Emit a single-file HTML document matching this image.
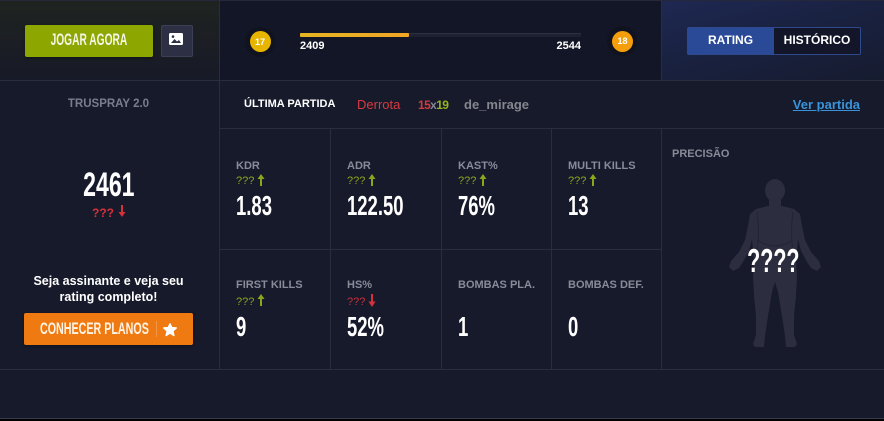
<!DOCTYPE html>
<html><head><meta charset="utf-8">
<style>
*{margin:0;padding:0;box-sizing:border-box}
html,body{width:884px;height:421px;overflow:hidden;background:#000}
body{font-family:"Liberation Sans",sans-serif;position:relative}
.a{position:absolute}
.t{position:absolute;white-space:nowrap}
.ln{position:absolute;background:#2a2d40}
.cc{position:absolute;width:300px;text-align:center;white-space:nowrap}
.cc span,.sx{display:inline-block}
.lab{position:absolute;font-size:11px;line-height:11px;font-weight:bold;color:#888b98;white-space:nowrap}
.q{position:absolute;font-size:11px;line-height:11px;color:#8ba61b;white-space:nowrap}
.qr{color:#c8303a}
.val{position:absolute;font-size:28px;line-height:28px;font-weight:bold;color:#fff;white-space:nowrap;transform:scaleX(.66);transform-origin:left top}
</style></head><body>
<div class="a" style="left:0;top:0;width:884px;height:419px;background:#171a2b"></div>
<!-- top backgrounds -->
<div class="a" style="left:0;top:1px;width:219px;height:79px;background:linear-gradient(180deg,#1f2320 0%,#1b1e24 55%,#171a27 100%)"></div>
<div class="a" style="left:220px;top:1px;width:441px;height:79px;background:#131626"></div>
<div class="a" style="left:662px;top:1px;width:222px;height:79px;background:linear-gradient(165deg,#1e2852 0%,#19213f 50%,#161b2f 100%)"></div>

<!-- lines -->
<div class="ln" style="left:0;top:0;width:884px;height:1px;background:#25283a"></div>
<div class="ln" style="left:0;top:80px;width:884px;height:1px"></div>
<div class="ln" style="left:219px;top:0;width:1px;height:369px"></div>
<div class="ln" style="left:661px;top:0;width:1px;height:80px"></div>
<div class="ln" style="left:661px;top:128px;width:1px;height:241px"></div>
<div class="ln" style="left:219px;top:128px;width:665px;height:1px"></div>
<div class="ln" style="left:330px;top:128px;width:1px;height:241px"></div>
<div class="ln" style="left:441px;top:128px;width:1px;height:241px"></div>
<div class="ln" style="left:551px;top:128px;width:1px;height:241px"></div>
<div class="ln" style="left:219px;top:249px;width:442px;height:1px"></div>
<div class="ln" style="left:0;top:369px;width:884px;height:1px"></div>
<div class="ln" style="left:0;top:418px;width:884px;height:1px;background:#373a4c"></div>

<!-- top left buttons -->
<div class="a" style="left:25px;top:25px;width:128px;height:32px;background:#8ea600;border-radius:2px;box-shadow:0 1px 3px rgba(0,0,0,.4)"></div>
<div class="cc" style="left:-61px;top:31px;font-size:17px;line-height:17px;font-weight:bold;color:#f4f6e8"><span style="transform:scaleX(.6)">JOGAR AGORA</span></div>
<div class="a" style="left:161px;top:25px;width:32px;height:32px;background:#2d3045;border:1px solid #3c4057;border-radius:2px"></div>
<svg class="a" style="left:169px;top:33px" width="15" height="13" viewBox="0 0 15 13">
<rect x="0" y="0" width="14" height="12" rx="1.5" fill="#fff"/>
<polygon points="2,10 5.5,6 8,8.5 10,7 12,10" fill="#2d3045"/>
<circle cx="4" cy="3.6" r="1.3" fill="#2d3045"/>
</svg>

<!-- progress -->
<div class="a" style="left:245px;top:27px;width:30px;height:30px;border-radius:50%;background:#10131f"></div>
<div class="a" style="left:250px;top:31px;width:21px;height:21px;border-radius:50%;background:#e7b500"></div>
<div class="cc" style="left:110px;top:38px;font-size:9px;line-height:9px;font-weight:bold;color:#fff"><span>17</span></div>
<div class="a" style="left:300px;top:33px;width:281px;height:4px;background:#1d2131;border-top:1px solid #2b2f40"></div>
<div class="a" style="left:300px;top:33px;width:109px;height:4px;background:linear-gradient(90deg,#e6b522,#f0a525);border-radius:1px"></div>
<div class="t" style="left:300px;top:41px;font-size:11px;line-height:11px;font-weight:bold;color:#fff">2409</div>
<div class="t" style="left:481px;width:100px;text-align:right;top:41px;font-size:11px;line-height:11px;font-weight:bold;color:#fff">2544</div>
<div class="a" style="left:607px;top:26px;width:30px;height:30px;border-radius:50%;background:#10131f"></div>
<div class="a" style="left:612px;top:31px;width:21px;height:21px;border-radius:50%;background:#f59e0b"></div>
<div class="cc" style="left:472.5px;top:37px;font-size:9px;line-height:9px;font-weight:bold;color:#fff"><span>18</span></div>

<!-- toggle -->
<div class="a" style="left:687px;top:27px;width:174px;height:28px;border:1px solid #2e4a8c;border-radius:2px;background:#121628"></div>
<div class="a" style="left:688px;top:28px;width:86px;height:26px;background:#2a4996"></div>
<div class="cc" style="left:580.5px;top:33.5px;font-size:12px;line-height:12px;font-weight:bold;color:#fff"><span>RATING</span></div>
<div class="cc" style="left:667px;top:33.5px;font-size:12px;line-height:12px;font-weight:bold;color:#fff"><span>HISTÓRICO</span></div>

<!-- header row -->
<div class="cc" style="left:-41.5px;top:97.5px;font-size:11.5px;line-height:12px;font-weight:bold;color:#7a7d8b"><span>TRUSPRAY 2.0</span></div>
<div class="t" style="left:244px;top:98.5px;font-size:11px;line-height:11px;font-weight:bold;color:#fff">ÚLTIMA PARTIDA</div>
<div class="t" style="left:357px;top:98px;font-size:13px;line-height:13px;color:#d63a3f">Derrota</div>
<div class="t" style="left:418px;top:98.5px;font-size:12px;line-height:12px;font-weight:bold;letter-spacing:-0.6px"><span style="color:#d63a3f">15</span><span style="color:#858897">x</span><span style="color:#98b31c">19</span></div>
<div class="t" style="left:464px;top:98px;font-size:13px;line-height:13px;font-weight:bold;color:#85878f">de_mirage</div>
<div class="t" style="left:760px;width:100px;text-align:right;top:98px;font-size:13px;line-height:13px;font-weight:bold;color:#3a93d8;text-decoration:underline">Ver partida</div>

<!-- left panel -->
<div class="cc" style="left:-41.5px;top:167.6px;font-size:34px;line-height:34px;font-weight:bold;color:#fff"><span style="transform:scaleX(.68)">2461</span></div>
<div class="t" style="left:92px;top:206.7px;font-size:12px;line-height:12px;font-weight:bold;color:#d8303a">???</div>
<svg class="a" style="left:118px;top:205px" width="8" height="12" viewBox="0 0 8 12"><line x1="4" y1="0" x2="4" y2="9" stroke="#d8303a" stroke-width="2"/><polygon points="0.5,7 4,12 7.5,7" fill="#d8303a"/></svg>
<div class="cc" style="left:-41.5px;top:272.6px;font-size:12.5px;line-height:16px;font-weight:bold;color:#fff">Seja assinante e veja seu<br>rating completo!</div>
<div class="a" style="left:24px;top:313px;width:169px;height:32px;background:#f07a12;border-radius:2px;box-shadow:0 1px 3px rgba(0,0,0,.4)"></div>
<div class="cc" style="left:-56px;top:319.8px;font-size:17px;line-height:17px;font-weight:bold;color:#fff4e6"><span style="transform:scaleX(.63)">CONHECER PLANOS</span></div>
<div class="a" style="left:156px;top:321px;width:1px;height:16px;background:rgba(255,255,255,.22)"></div>
<svg class="a" style="left:163px;top:323px" width="14" height="14" viewBox="0 0 14 14"><polygon points="7,0.8 8.76,4.57 13.3,5 9.85,7.93 10.9,12.5 7,10 3.1,12.5 4.15,7.93 0.7,5 5.24,4.57" fill="#fff" stroke="#fff" stroke-width="1.4" stroke-linejoin="round"/></svg>

<!-- stats row 1 -->
<div class="lab" style="left:236px;top:160.5px">KDR</div>
<div class="lab" style="left:347px;top:160.5px">ADR</div>
<div class="lab" style="left:458px;top:160.5px">KAST%</div>
<div class="lab" style="left:568px;top:160.5px">MULTI KILLS</div>

<div class="q" style="left:236px;top:175.5px">???</div>
<div class="q" style="left:347px;top:175.5px">???</div>
<div class="q" style="left:458px;top:175.5px">???</div>
<div class="q" style="left:568px;top:175.5px">???</div>
<svg class="a" style="left:257px;top:174px" width="8" height="12" viewBox="0 0 8 12"><line x1="4" y1="3" x2="4" y2="12" stroke="#8ba61b" stroke-width="2"/><polygon points="0.5,5 4,0 7.5,5" fill="#8ba61b"/></svg>
<svg class="a" style="left:368px;top:174px" width="8" height="12" viewBox="0 0 8 12"><line x1="4" y1="3" x2="4" y2="12" stroke="#8ba61b" stroke-width="2"/><polygon points="0.5,5 4,0 7.5,5" fill="#8ba61b"/></svg>
<svg class="a" style="left:479px;top:174px" width="8" height="12" viewBox="0 0 8 12"><line x1="4" y1="3" x2="4" y2="12" stroke="#8ba61b" stroke-width="2"/><polygon points="0.5,5 4,0 7.5,5" fill="#8ba61b"/></svg>
<svg class="a" style="left:589px;top:174px" width="8" height="12" viewBox="0 0 8 12"><line x1="4" y1="3" x2="4" y2="12" stroke="#8ba61b" stroke-width="2"/><polygon points="0.5,5 4,0 7.5,5" fill="#8ba61b"/></svg>

<div class="val" style="left:236px;top:192.3px">1.83</div>
<div class="val" style="left:347px;top:192.3px">122.50</div>
<div class="val" style="left:458px;top:192.3px">76%</div>
<div class="val" style="left:568px;top:192.3px">13</div>

<!-- stats row 2 -->
<div class="lab" style="left:236px;top:280px">FIRST KILLS</div>
<div class="lab" style="left:347px;top:280px">HS%</div>
<div class="lab" style="left:458px;top:280px">BOMBAS PLA.</div>
<div class="lab" style="left:568px;top:280px">BOMBAS DEF.</div>

<div class="q" style="left:236px;top:296.5px">???</div>
<div class="q qr" style="left:347px;top:296.5px">???</div>
<svg class="a" style="left:257px;top:294px" width="8" height="12" viewBox="0 0 8 12"><line x1="4" y1="3" x2="4" y2="12" stroke="#8ba61b" stroke-width="2"/><polygon points="0.5,5 4,0 7.5,5" fill="#8ba61b"/></svg>
<svg class="a" style="left:368px;top:294px" width="8" height="13" viewBox="0 0 8 13"><line x1="4" y1="0" x2="4" y2="9" stroke="#d8303a" stroke-width="2"/><polygon points="0.5,7.5 4,13 7.5,7.5" fill="#d8303a"/></svg>

<div class="val" style="left:236px;top:313.3px">9</div>
<div class="val" style="left:347px;top:313.3px">52%</div>
<div class="val" style="left:458px;top:313.3px">1</div>
<div class="val" style="left:568px;top:313.3px">0</div>

<!-- precision -->
<div class="lab" style="left:672px;top:149.3px">PRECISÃO</div>
<svg class="a" style="left:0;top:0" width="884" height="421" viewBox="0 0 884 421">
<g fill="#2c2d3e">
<ellipse cx="775" cy="190.5" rx="10" ry="11.5"/>
<rect x="769" y="197" width="12" height="13" rx="3"/>
<path d="M768,206 L756,209 L750,214 L748,226 L745,240 L739,252 L731,261 L729,267 L733,271 L739,268 L743,262 L749,251 L752,239 L753,250 L754,262 L753,276 L754,296 L756,316 L756,335 L753,344 L755,347 L764,347 L765,336 L768,316 L772,292 L775,282 L778,292 L782,316 L785,336 L786,347 L795,347 L797,344 L794,335 L794,316 L796,296 L797,276 L796,262 L797,250 L798,239 L801,251 L807,262 L811,268 L817,271 L821,267 L819,261 L811,252 L805,240 L802,226 L800,214 L794,209 L782,206 Z"/>
</g>
<g stroke="#232433" stroke-width="1" fill="none">
<path d="M757,212 Q760,235 757,250"/>
<path d="M793,212 Q790,235 793,250"/>
<path d="M757,240 Q775,252 793,240"/>
</g>
</svg>
<div class="cc" style="left:623.5px;top:243.7px;font-size:33px;line-height:33px;font-weight:bold;color:#fff"><span style="transform:scaleX(.65)">????</span></div>
</body></html>
